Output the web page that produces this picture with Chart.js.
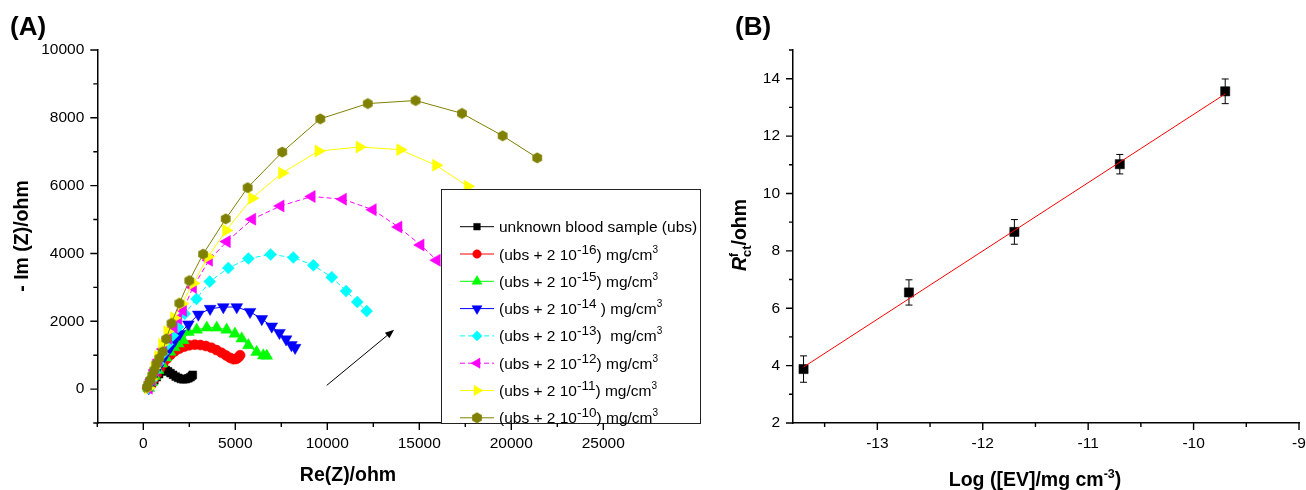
<!DOCTYPE html>
<html>
<head>
<meta charset="utf-8">
<script src="https://cdn.jsdelivr.net/npm/chart.js@4.4.1/dist/chart.umd.min.js"></script>
<style>
  html, body { margin: 0; padding: 0; background: #fff; }
  #wrap { position: relative; width: 1306px; height: 490px; overflow: hidden; }
  canvas { position: absolute; top: 0; }
  #chartA { left: 0; }
  #chartB { left: 706px; }
</style>
</head>
<body>
<div id="wrap">
  <canvas id="chartA" width="706" height="490"></canvas>
  <canvas id="chartB" width="600" height="490"></canvas>
</div>
<script>
// ---- panel A : Nyquist plots, Re(Z) / -Im(Z) in ohm ----
const ubsRe = [250, 350, 470, 600, 730, 860, 990, 1110, 1230, 1350, 1480, 1620, 1760, 1900, 2040, 2180, 2320, 2450, 2560, 2640, 2690];
const ubsIm = [20, 90, 170, 260, 350, 440, 520, 570, 560, 520, 470, 420, 370, 330, 300, 290, 295, 320, 350, 390, 420];
const c16Re = [300, 420, 560, 720, 900, 1080, 1270, 1480, 1700, 1950, 2220, 2500, 2800, 3100, 3400, 3700, 3980, 4250, 4500, 4720, 4900, 5060, 5180, 5260];
const c16Im = [30, 150, 290, 440, 600, 750, 890, 1010, 1110, 1190, 1250, 1290, 1310, 1300, 1270, 1220, 1150, 1070, 990, 920, 880, 890, 940, 1000];
const c15Re = [300, 450, 620, 800, 1000, 1220, 1450, 1680, 1900, 2170, 2450, 2900, 3450, 3990, 4530, 4980, 5350, 5710, 6160, 6520, 6710];
const c15Im = [30, 200, 380, 560, 750, 930, 1100, 1230, 1340, 1440, 1680, 1750, 1810, 1810, 1750, 1630, 1490, 1290, 1090, 990, 980];
const c14Re = [300, 450, 620, 800, 1000, 1230, 1480, 1720, 1980, 2450, 2990, 3630, 4350, 5080, 5800, 6440, 6980, 7400, 7760, 8050, 8250];
const c14Im = [30, 220, 420, 620, 830, 1040, 1240, 1440, 1630, 1910, 2200, 2370, 2420, 2420, 2280, 2070, 1850, 1660, 1470, 1300, 1220];
const c13Re = [300, 450, 630, 830, 1060, 1320, 1600, 1890, 2250, 2890, 3610, 4620, 5710, 6920, 8150, 9240, 10240, 11020, 11630, 12140];
const c13Im = [30, 250, 500, 760, 1040, 1320, 1580, 1830, 2220, 2660, 3170, 3570, 3850, 3970, 3880, 3650, 3300, 2890, 2570, 2300];
const c12Re = [300, 450, 630, 840, 1080, 1350, 1650, 1900, 2160, 2700, 3570, 4540, 5920, 7460, 9150, 10850, 12470, 13870, 15070, 15950, 16750];
const c12Im = [30, 280, 560, 860, 1180, 1500, 1820, 2080, 2320, 3000, 3800, 4350, 5010, 5400, 5680, 5600, 5290, 4780, 4250, 3800, 3300];
const c11Re = [280, 430, 600, 800, 1020, 1300, 1670, 2100, 2710, 3520, 4500, 5910, 7540, 9520, 11750, 13960, 15910, 17630, 19200];
const c11Im = [30, 300, 620, 960, 1320, 1700, 2100, 2520, 3120, 3900, 4680, 5630, 6370, 7020, 7140, 7060, 6600, 5980, 5210];
const c10Re = [200, 270, 380, 490, 600, 710, 870, 1050, 1250, 1530, 1960, 2500, 3250, 4480, 5670, 7550, 9620, 12200, 14800, 17320, 19530, 21410];
const c10Im = [50, 150, 270, 410, 560, 740, 910, 1100, 1480, 1940, 2530, 3200, 3980, 5020, 5940, 6990, 7970, 8420, 8510, 8130, 7470, 6820];
const arrowFrom = [9970, 110];
const arrowTo = [13630, 1750];
const aXTicks = [0, 5000, 10000, 15000, 20000, 25000];
const aYTicks = [0, 2000, 4000, 6000, 8000, 10000];

// ---- panel B : calibration, Rct vs log concentration ----
const logConc = [-13.7, -12.7, -11.7, -10.7, -9.7];
const rct = [3.88, 6.55, 8.66, 11.02, 13.56];
const rctErr = [0.46, 0.44, 0.43, 0.34, 0.43];
const fitX = [-13.7, -9.7];
const fitY = [3.95, 13.47];
const bXTicks = [-13, -12, -11, -10, -9];
const bYTicks = [2, 4, 6, 8, 10, 12, 14];

const FONT = "'Liberation Sans', Arial, Helvetica, sans-serif";
Chart.defaults.font.family = FONT;
Chart.defaults.color = '#000';

const main = '15.5px ' + FONT;
const sup = '13.5px ' + FONT;
const cube = '10px ' + FONT;
const legendLabels = [
  [{ t: 'unknown blood sample (ubs)', font: main }],
  [{ t: '(ubs + 2 10', font: main }, { t: '-16', font: sup, dy: -6 }, { t: ') mg/cm', font: main }, { t: '3', font: cube, dy: -7 }],
  [{ t: '(ubs + 2 10', font: main }, { t: '-15', font: sup, dy: -6 }, { t: ') mg/cm', font: main }, { t: '3', font: cube, dy: -7 }],
  [{ t: '(ubs + 2 10', font: main }, { t: '-14', font: sup, dy: -6 }, { t: ' ) mg/cm', font: main }, { t: '3', font: cube, dy: -7 }],
  [{ t: '(ubs + 2 10', font: main }, { t: '-13', font: sup, dy: -6 }, { t: ')  mg/cm', font: main }, { t: '3', font: cube, dy: -7 }],
  [{ t: '(ubs + 2 10', font: main }, { t: '-12', font: sup, dy: -6 }, { t: ') mg/cm', font: main }, { t: '3', font: cube, dy: -7 }],
  [{ t: '(ubs + 2 10', font: main }, { t: '-11', font: sup, dy: -6 }, { t: ') mg/cm', font: main }, { t: '3', font: cube, dy: -7 }],
  [{ t: '(ubs + 2 10', font: main }, { t: '-10', font: sup, dy: -6 }, { t: ') mg/cm', font: main }, { t: '3', font: cube, dy: -7 }]
];

function pts(xs, ys) {
  return xs.map((x, i) => ({ x: x, y: ys[i] }));
}

// hexagon symbol, Chart.js has none
function hexagon(color, r) {
  const c = document.createElement('canvas');
  const s = Math.ceil(2 * r + 2);
  c.width = s; c.height = s;
  const g = c.getContext('2d');
  g.fillStyle = color;
  g.beginPath();
  for (let k = 0; k < 6; k++) {
    const a = -Math.PI / 2 + k * Math.PI / 3;
    const px = s / 2 + Math.cos(a) * r, py = s / 2 + Math.sin(a) * r;
    if (k === 0) g.moveTo(px, py); else g.lineTo(px, py);
  }
  g.closePath();
  g.fill();
  return c;
}

const seriesA = [
  { re: ubsRe, im: ubsIm, color: '#000000', style: 'rect', rot: 0, r: 5.5, dash: [] },
  { re: c16Re, im: c16Im, color: '#ff0000', style: 'circle', rot: 0, r: 5, dash: [] },
  { re: c15Re, im: c15Im, color: '#00ff00', style: 'triangle', rot: 0, r: 6.8, dash: [] },
  { re: c14Re, im: c14Im, color: '#0000ff', style: 'triangle', rot: 180, r: 6.8, dash: [] },
  { re: c13Re, im: c13Im, color: '#00ffff', style: 'rectRot', rot: 0, r: 6, dash: [5, 3] },
  { re: c12Re, im: c12Im, color: '#ff00ff', style: 'triangle', rot: -90, r: 7, dash: [5, 3] },
  { re: c11Re, im: c11Im, color: '#ffff00', style: 'triangle', rot: 90, r: 7, dash: [] },
  { re: c10Re, im: c10Im, color: '#808000', style: hexagon('#808000', 5.6), rot: 0, r: 5.6, dash: [] }
];

function richWidth(ctx, parts) {
  let w = 0;
  for (const p of parts) {
    ctx.font = p.font;
    w += p.adv !== undefined ? p.adv : ctx.measureText(p.t).width;
  }
  return w;
}
function drawRich(ctx, parts, x, y) {
  let cx = x;
  for (const p of parts) {
    ctx.font = p.font;
    ctx.fillText(p.t, cx, y + (p.dy || 0));
    cx += p.adv !== undefined ? p.adv : ctx.measureText(p.t).width;
  }
}

// origin style outward ticks, long for major, short for minor
function drawTicks(chart, majorX, minorX, majorY, minorY) {
  const { ctx, chartArea, scales } = chart;
  ctx.save();
  ctx.strokeStyle = '#000';
  ctx.lineWidth = 1.4;
  ctx.beginPath();
  const tx = (v, len) => {
    const p = scales.x.getPixelForValue(v);
    ctx.moveTo(p, chartArea.bottom); ctx.lineTo(p, chartArea.bottom + len);
  };
  const ty = (v, len) => {
    const p = scales.y.getPixelForValue(v);
    ctx.moveTo(chartArea.left, p); ctx.lineTo(chartArea.left - len, p);
  };
  majorX.forEach(v => tx(v, 7));
  minorX.forEach(v => tx(v, 4));
  majorY.forEach(v => ty(v, 7));
  minorY.forEach(v => ty(v, 4));
  ctx.stroke();
  ctx.restore();
}

function fixedScales(xMin, xMax, yMin, yMax, xTicks, yTicks, yWidth) {
  const common = {
    type: 'linear',
    grid: { display: false, drawTicks: false },
    border: { display: true, color: '#000', width: 1.5 },
  };
  return {
    x: Object.assign({}, common, {
      min: xMin, max: xMax,
      ticks: { padding: 11, font: { size: 15.5 }, color: '#000', autoSkip: false, maxRotation: 0, callback: v => String(v) },
      afterBuildTicks: ax => { ax.ticks = xTicks.map(v => ({ value: v })); },
      afterFit: ax => { ax.height = 67; ax.paddingLeft = 0; ax.paddingRight = 0; }
    }),
    y: Object.assign({}, common, {
      min: yMin, max: yMax,
      ticks: { padding: 13, font: { size: 15.5 }, color: '#000', autoSkip: false, callback: v => String(v) },
      afterBuildTicks: ax => { ax.ticks = yTicks.map(v => ({ value: v })); },
      afterFit: ax => { ax.width = yWidth; ax.paddingTop = 0; ax.paddingBottom = 0; }
    })
  };
}

// ---------------- panel A ----------------
const datasetsA = seriesA.map((s, i) => ({
  data: pts(s.re, s.im),
  showLine: true,
  tension: 0,
  borderColor: s.color,
  borderWidth: 1,
  borderDash: s.dash,
  backgroundColor: s.color,
  pointBackgroundColor: s.color,
  pointBorderColor: s.color,
  pointBorderWidth: 0.5,
  pointStyle: s.style,
  pointRotation: s.rot,
  pointRadius: s.r,
  order: seriesA.length - 1 - i
}));

const panelA = {
  id: 'panelA',
  afterDraw(chart) {
    const { ctx, scales } = chart;
    ctx.save();
    // arrow
    const x1 = scales.x.getPixelForValue(arrowFrom[0]), y1 = scales.y.getPixelForValue(arrowFrom[1]);
    const x2 = scales.x.getPixelForValue(arrowTo[0]), y2 = scales.y.getPixelForValue(arrowTo[1]);
    const ang = Math.atan2(y2 - y1, x2 - x1);
    ctx.strokeStyle = '#000'; ctx.fillStyle = '#000'; ctx.lineWidth = 1;
    ctx.beginPath(); ctx.moveTo(x1, y1); ctx.lineTo(x2 - 6 * Math.cos(ang), y2 - 6 * Math.sin(ang)); ctx.stroke();
    ctx.beginPath();
    ctx.moveTo(x2, y2);
    ctx.lineTo(x2 - 9 * Math.cos(ang) + 3.5 * Math.sin(ang), y2 - 9 * Math.sin(ang) - 3.5 * Math.cos(ang));
    ctx.lineTo(x2 - 9 * Math.cos(ang) - 3.5 * Math.sin(ang), y2 - 9 * Math.sin(ang) + 3.5 * Math.cos(ang));
    ctx.closePath(); ctx.fill();

    // legend box over the data
    ctx.fillStyle = '#fff';
    ctx.fillRect(441, 189, 260, 235);
    ctx.strokeStyle = '#222'; ctx.lineWidth = 1;
    ctx.strokeRect(441.5, 189.5, 259, 234);
    seriesA.forEach((s, i) => {
      const ry = 226.7 + 27.3 * i;
      ctx.save();
      ctx.strokeStyle = s.color; ctx.lineWidth = 1;
      ctx.setLineDash(s.dash);
      ctx.beginPath(); ctx.moveTo(460, ry); ctx.lineTo(494, ry); ctx.stroke();
      ctx.setLineDash([]);
      ctx.fillStyle = s.color; ctx.strokeStyle = s.color; ctx.lineWidth = 0.5;
      Chart.helpers.drawPoint(ctx, { pointStyle: s.style, rotation: s.rot, radius: s.r * 0.85, borderWidth: 0.5 }, 477, ry);
      ctx.restore();
      ctx.fillStyle = '#000';
      ctx.textAlign = 'left'; ctx.textBaseline = 'alphabetic';
      drawRich(ctx, legendLabels[i], 499, ry + 5.5);
    });

    drawTicks(chart, aXTicks, [-2500, 2500, 7500, 12500, 17500, 22500], aYTicks, [-1000, 1000, 3000, 5000, 7000, 9000]);

    // panel letter and axis titles
    ctx.fillStyle = '#000';
    ctx.textBaseline = 'alphabetic';
    ctx.textAlign = 'left';
    ctx.font = 'bold 26px ' + FONT;
    ctx.fillText('(A)', 10, 35);
    ctx.textAlign = 'center';
    ctx.font = 'bold 19.5px ' + FONT;
    ctx.fillText('Re(Z)/ohm', 348, 481);
    ctx.translate(28, 236);
    ctx.rotate(-Math.PI / 2);
    ctx.fillText('- Im (Z)/ohm', 0, 0);
    ctx.restore();
  }
};

new Chart(document.getElementById('chartA'), {
  type: 'scatter',
  data: { datasets: datasetsA },
  options: {
    responsive: false,
    animation: false,
    devicePixelRatio: 1,
    events: [],
    layout: { padding: { left: 0, top: 50, right: 65.9, bottom: 0 } },
    plugins: { legend: { display: false }, tooltip: { enabled: false } },
    scales: fixedScales(-2500, 27000, -1000, 10000, aXTicks, aYTicks, 97.3)
  },
  plugins: [panelA]
});

// ---------------- panel B ----------------
const panelB = {
  id: 'panelB',
  beforeDatasetsDraw(chart) {
    const { ctx, scales } = chart;
    ctx.save();
    ctx.strokeStyle = '#000'; ctx.lineWidth = 1;
    ctx.beginPath();
    logConc.forEach((c, i) => {
      const px = scales.x.getPixelForValue(c);
      const top = scales.y.getPixelForValue(rct[i] + rctErr[i]);
      const bot = scales.y.getPixelForValue(rct[i] - rctErr[i]);
      ctx.moveTo(px, top); ctx.lineTo(px, bot);
      ctx.moveTo(px - 3.5, top); ctx.lineTo(px + 3.5, top);
      ctx.moveTo(px - 3.5, bot); ctx.lineTo(px + 3.5, bot);
    });
    ctx.stroke();
    ctx.restore();
  },
  afterDraw(chart) {
    const { ctx } = chart;
    drawTicks(chart, bXTicks, [-13.5, -12.5, -11.5, -10.5, -9.5], bYTicks, [3, 5, 7, 9, 11, 13, 15]);
    ctx.save();
    ctx.fillStyle = '#000';
    ctx.textBaseline = 'alphabetic';
    ctx.textAlign = 'left';
    ctx.font = 'bold 26px ' + FONT;
    ctx.fillText('(B)', 29, 35);

    const bold = 'bold 19.5px ' + FONT;
    const xTitle = [
      { t: 'Log ([EV]/mg cm', font: bold },
      { t: '-3', font: 'bold 12.5px ' + FONT, dy: -8 },
      { t: ')', font: bold }
    ];
    drawRich(ctx, xTitle, 329 - richWidth(ctx, xTitle) / 2, 486);

    const yTitle = [
      { t: 'R', font: 'italic bold 19.5px ' + FONT },
      { t: 'f', font: 'bold 12px ' + FONT, dy: -8, adv: 0 },
      { t: 'ct', font: 'bold 13px ' + FONT, dy: 5 },
      { t: '/ohm', font: bold }
    ];
    ctx.translate(40, 235);
    ctx.rotate(-Math.PI / 2);
    drawRich(ctx, yTitle, -richWidth(ctx, yTitle) / 2, 0);
    ctx.restore();
  }
};

new Chart(document.getElementById('chartB'), {
  type: 'scatter',
  data: {
    datasets: [
      {
        data: pts(fitX, fitY),
        showLine: true,
        borderColor: '#ff0000',
        borderWidth: 1,
        pointRadius: 0,
        order: 0
      },
      {
        data: pts(logConc, rct),
        showLine: false,
        pointStyle: 'rect',
        pointRadius: 6.5,
        pointBackgroundColor: '#000',
        pointBorderColor: '#000',
        pointBorderWidth: 0.5,
        order: 1
      }
    ]
  },
  options: {
    responsive: false,
    animation: false,
    devicePixelRatio: 1,
    events: [],
    layout: { padding: { left: 0, top: 50, right: 4.2, bottom: 0 } },
    plugins: { legend: { display: false }, tooltip: { enabled: false } },
    scales: fixedScales(-13.8, -9, 2, 15, bXTicks, bYTicks, 87)
  },
  plugins: [panelB]
});
</script>
</body>
</html>
